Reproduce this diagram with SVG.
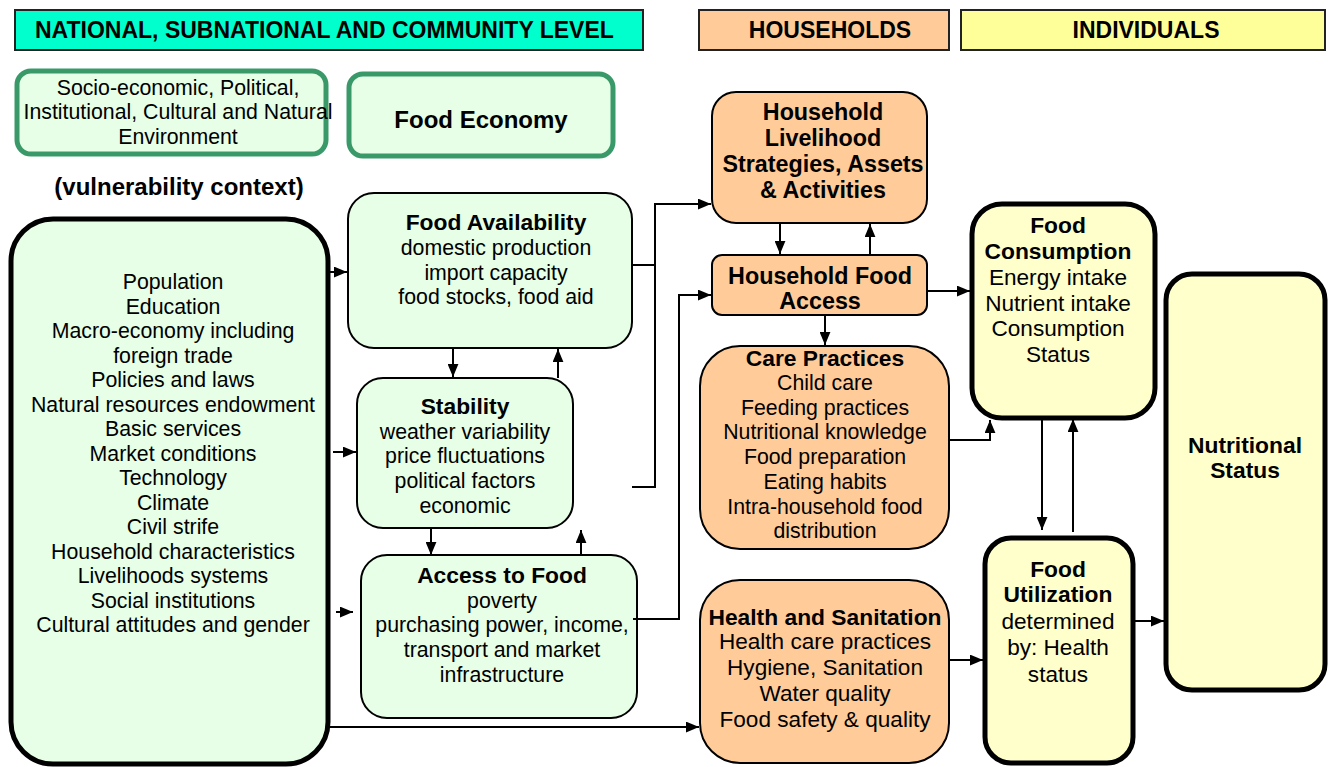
<svg xmlns="http://www.w3.org/2000/svg" width="1331" height="767" viewBox="0 0 1331 767">
<defs>
<style>
text{font-family:"Liberation Sans",Arial,sans-serif;font-size:21.3px;fill:#000;text-anchor:middle}
.b{font-weight:bold;font-size:22.8px}
.b22{font-weight:bold;font-size:23.3px}
.big{font-size:22.6px}
.hd{font-weight:bold;font-size:23px}
.hdr{stroke:#222;stroke-width:2}
.g{fill:#E6FFE6;stroke:#000;stroke-width:2}
.gt{fill:#E6FFE6;stroke:#3A9968;stroke-width:5}
.gk{fill:#E6FFE6;stroke:#000;stroke-width:5}
.o{fill:#FFCC99;stroke:#000;stroke-width:2}
.y{fill:#FFFFCC;stroke:#000;stroke-width:5}
.c{fill:none;stroke:#000;stroke-width:2}
</style>
<marker id="ah" viewBox="0 0 12 10" refX="12" refY="5" markerWidth="13" markerHeight="11" markerUnits="userSpaceOnUse" orient="auto">
<path d="M0,0 L12,5 L0,10 z" fill="#000"/>
</marker>
</defs>
<rect width="1331" height="767" fill="#fff"/>

<g id="hdr-national">
<rect class="hdr" x="15" y="10" width="628" height="40" fill="#00FFCC"/>
<text class="hd" x="35" y="38" style="text-anchor:start">NATIONAL, SUBNATIONAL AND COMMUNITY LEVEL</text>
</g>
<g id="hdr-households">
<rect class="hdr" x="699" y="10" width="250" height="40" fill="#FFCC99"/>
<text class="hd" x="830" y="38">HOUSEHOLDS</text>
</g>
<g id="hdr-individuals">
<rect class="hdr" x="961" y="10" width="364" height="40" fill="#FFFF99"/>
<text class="hd" x="1146" y="38">INDIVIDUALS</text>
</g>

<g id="socio">
<rect class="gt" x="17" y="71" width="309" height="83" rx="14"/>
<text x="178" y="95">Socio-economic, Political,</text>
<text x="178" y="119">Institutional, Cultural and Natural</text>
<text x="178" y="144">Environment</text>
</g>
<g id="food-economy">
<rect class="gt" x="349" y="74" width="264" height="82" rx="14"/>
<text class="b" x="481" y="128" style="font-size:24px">Food Economy</text>
</g>
<g id="vulnerability">
<text class="b" x="179" y="195" style="font-size:24px">(vulnerability context)</text>
</g>

<g id="context">
<rect class="gk" x="11" y="219" width="317" height="545" rx="42"/>
<text x="173" y="289">Population</text>
<text x="173" y="313.5">Education</text>
<text x="173" y="338">Macro-economy including</text>
<text x="173" y="362.5">foreign trade</text>
<text x="173" y="387">Policies and laws</text>
<text x="173" y="411.5">Natural resources endowment</text>
<text x="173" y="436">Basic services</text>
<text x="173" y="460.5">Market conditions</text>
<text x="173" y="485">Technology</text>
<text x="173" y="509.5">Climate</text>
<text x="173" y="534">Civil strife</text>
<text x="173" y="558.5">Household characteristics</text>
<text x="173" y="583">Livelihoods systems</text>
<text x="173" y="607.5">Social institutions</text>
<text x="173" y="632">Cultural attitudes and gender</text>
</g>

<g id="food-availability">
<rect class="g" x="348" y="193" width="284" height="155" rx="26"/>
<text class="b" x="496" y="230">Food Availability</text>
<text x="496" y="255">domestic production</text>
<text x="496" y="280">import capacity</text>
<text x="496" y="304">food stocks, food aid</text>
</g>
<g id="stability">
<rect class="g" x="357" y="378" width="216" height="150" rx="26"/>
<text class="b" x="465" y="414">Stability</text>
<text x="465" y="439">weather variability</text>
<text x="465" y="463">price fluctuations</text>
<text x="465" y="488">political factors</text>
<text x="465" y="513">economic</text>
</g>
<g id="access-to-food">
<rect class="g" x="361" y="555" width="276" height="163" rx="26"/>
<text class="b" x="502" y="583">Access to Food</text>
<text x="502" y="608">poverty</text>
<text x="502" y="632">purchasing power, income,</text>
<text x="502" y="657">transport and market</text>
<text x="502" y="682">infrastructure</text>
</g>

<g id="hh-livelihood">
<rect class="o" x="712" y="92" width="215" height="131" rx="24"/>
<text class="b22" x="823" y="120">Household</text>
<text class="b22" x="823" y="146">Livelihood</text>
<text class="b22" x="823" y="172">Strategies, Assets</text>
<text class="b22" x="823" y="198">&amp; Activities</text>
</g>
<g id="hh-food-access">
<rect class="o" x="712" y="255" width="215" height="60" rx="10"/>
<text class="b22" x="820" y="284">Household Food</text>
<text class="b22" x="820" y="309">Access</text>
</g>
<g id="care-practices">
<rect class="o" x="700" y="346" width="249" height="203" rx="40"/>
<text class="b" x="825" y="366">Care Practices</text>
<text x="825" y="390">Child care</text>
<text x="825" y="415">Feeding practices</text>
<text x="825" y="439">Nutritional knowledge</text>
<text x="825" y="464">Food preparation</text>
<text x="825" y="489">Eating habits</text>
<text x="825" y="514">Intra-household food</text>
<text x="825" y="538">distribution</text>
</g>
<g id="health-sanitation">
<rect class="o" x="700" y="580" width="249" height="183" rx="40"/>
<text class="b" x="825" y="625">Health and Sanitation</text>
<text class="big" x="825" y="649">Health care practices</text>
<text class="big" x="825" y="675">Hygiene, Sanitation</text>
<text class="big" x="825" y="701">Water quality</text>
<text class="big" x="825" y="727">Food safety &amp; quality</text>
</g>

<g id="food-consumption">
<rect class="y" x="972" y="204" width="183" height="214" rx="30"/>
<text class="b" x="1058" y="233">Food</text>
<text class="b" x="1058" y="259">Consumption</text>
<text class="big" x="1058" y="285">Energy intake</text>
<text class="big" x="1058" y="311">Nutrient intake</text>
<text class="big" x="1058" y="336">Consumption</text>
<text class="big" x="1058" y="362">Status</text>
</g>
<g id="food-utilization">
<rect class="y" x="985" y="538" width="148" height="225" rx="26"/>
<text class="b" x="1058" y="577">Food</text>
<text class="b" x="1058" y="602">Utilization</text>
<text class="big" x="1058" y="629">determined</text>
<text class="big" x="1058" y="655">by: Health</text>
<text class="big" x="1058" y="682">status</text>
</g>
<g id="nutritional-status">
<rect class="y" x="1166" y="274" width="159" height="416" rx="26"/>
<text class="b" x="1245" y="453">Nutritional</text>
<text class="b" x="1245" y="478">Status</text>
</g>

<g id="connectors">
<path class="c" d="M329,272 H347" marker-end="url(#ah)"/>
<path class="c" d="M333,452 H356" marker-end="url(#ah)"/>
<path class="c" d="M336,612 H353" marker-end="url(#ah)"/>
<path class="c" d="M329,727 H699" marker-end="url(#ah)"/>
<path class="c" d="M453,348 V377" marker-end="url(#ah)"/>
<path class="c" d="M558,378 V349" marker-end="url(#ah)"/>
<path class="c" d="M431,528 V555" marker-end="url(#ah)"/>
<path class="c" d="M581,556 V530" marker-end="url(#ah)"/>
<path class="c" d="M632,265 H655"/>
<path class="c" d="M632,487 H655 V204 H711" marker-end="url(#ah)"/>
<path class="c" d="M633,619 H679 V295 H711" marker-end="url(#ah)"/>
<path class="c" d="M780,223 V254" marker-end="url(#ah)"/>
<path class="c" d="M870,255 V224" marker-end="url(#ah)"/>
<path class="c" d="M825,315 V345" marker-end="url(#ah)"/>
<path class="c" d="M927,291 H970" marker-end="url(#ah)"/>
<path class="c" d="M949,440 H990 V420" marker-end="url(#ah)"/>
<path class="c" d="M949,660 H983" marker-end="url(#ah)"/>
<path class="c" d="M1042,420 V530" marker-end="url(#ah)"/>
<path class="c" d="M1073,532 V419" marker-end="url(#ah)"/>
<path class="c" d="M1133,621 H1164" marker-end="url(#ah)"/>
</g>
</svg>
